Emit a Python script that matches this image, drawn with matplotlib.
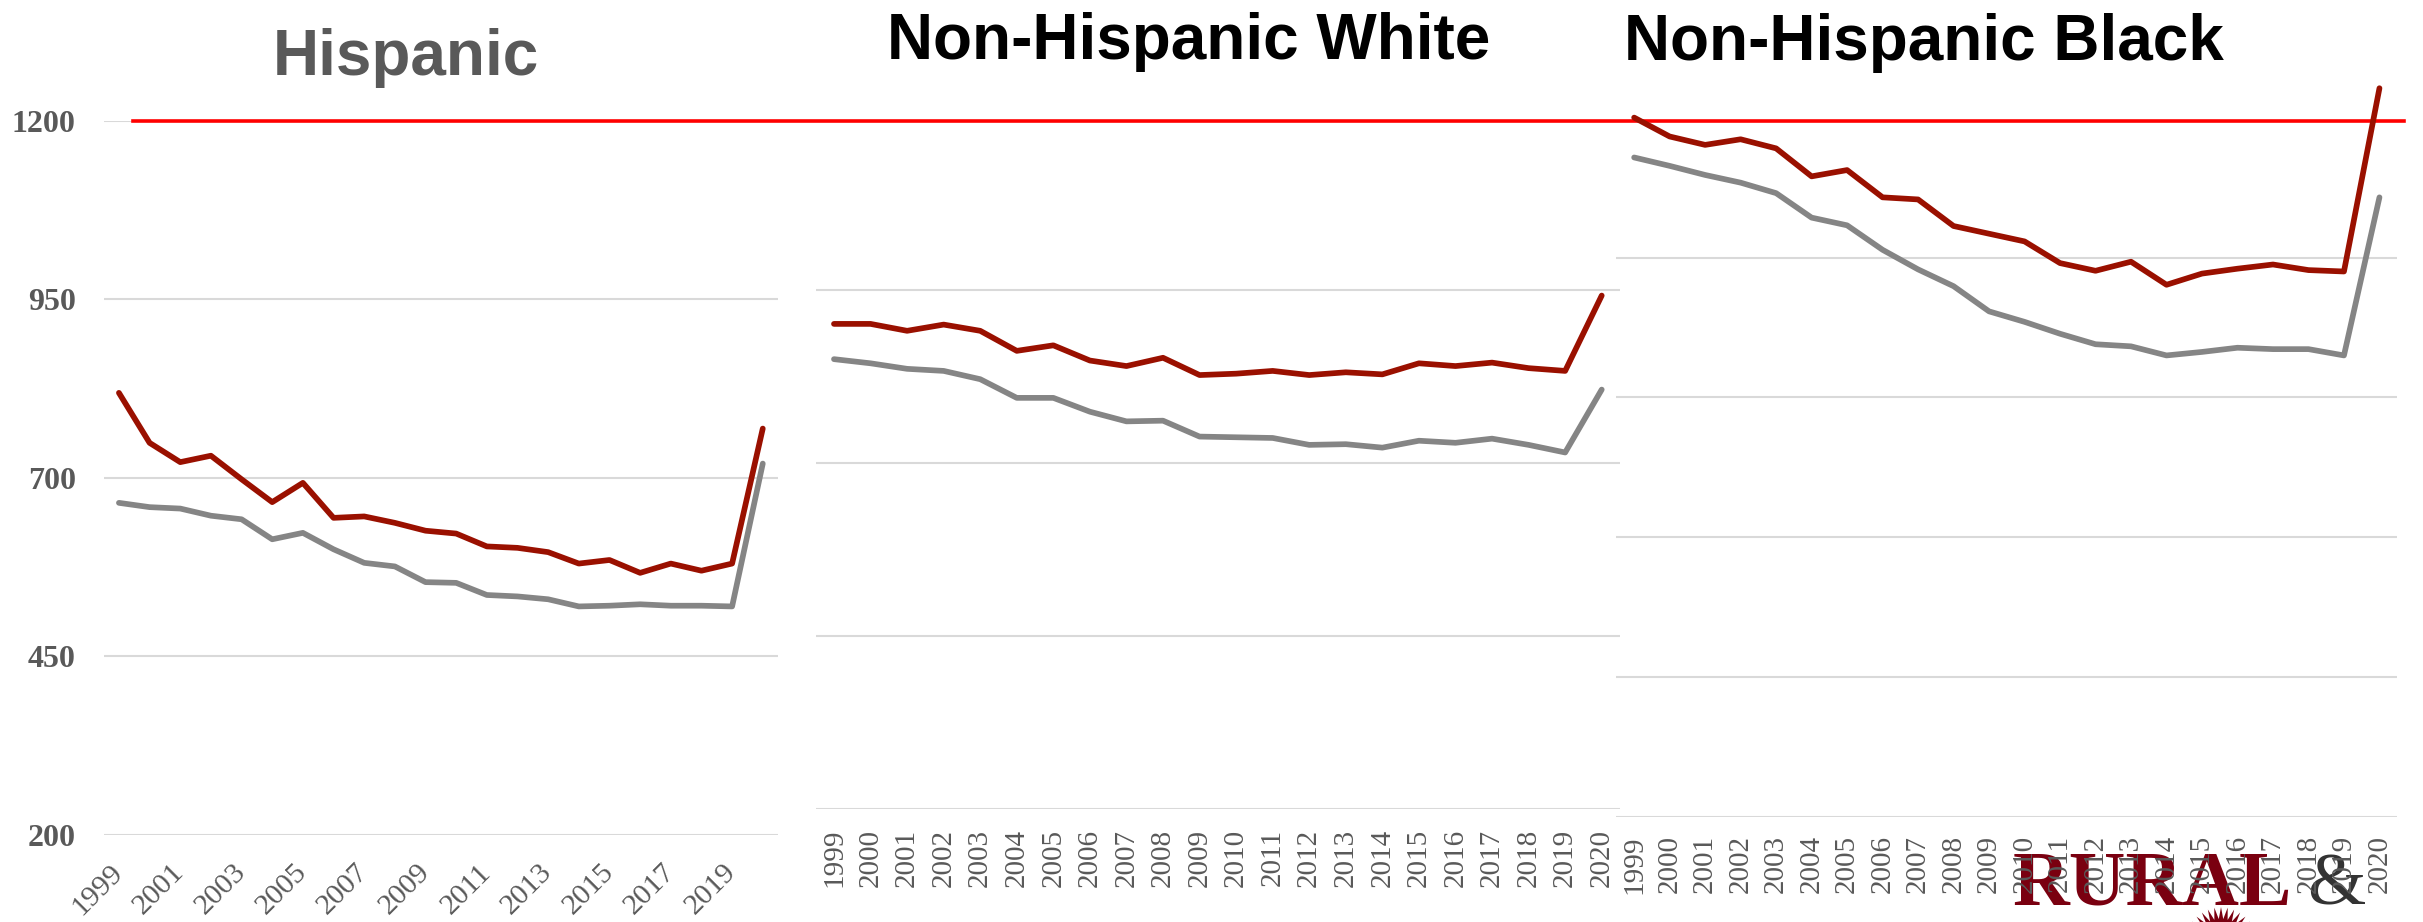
import numpy as np
import matplotlib
matplotlib.use("Agg")
import matplotlib.pyplot as plt
from matplotlib.lines import Line2D
from matplotlib.patches import Polygon
from matplotlib.transforms import blended_transform_factory

# Age-adjusted death rates per 100,000, rural vs urban
years = list(range(1999, 2021))

hispanic_rural = [819, 749, 722, 731, 698, 666, 693, 644, 646, 637, 626, 622,
                  604, 602, 596, 580, 585, 567, 580, 570, 580, 769]
hispanic_urban = [665, 659, 657, 647, 642, 614, 623, 600, 581, 576, 554, 553,
                  536, 534, 530, 520, 521, 523, 521, 521, 520, 720]

white_rural = [901, 901, 891, 900, 891, 862, 870, 848, 840, 852, 827, 829,
               833, 827, 831, 828, 844, 840, 845, 837, 833, 942]
white_urban = [850, 844, 836, 833, 821, 794, 794, 774, 760, 761, 738, 737,
               736, 726, 727, 722, 732, 729, 735, 726, 715, 806]

black_rural = [1200, 1173, 1161, 1169, 1156, 1116, 1125, 1086, 1083, 1045, 1034, 1023,
               992, 981, 994, 961, 977, 984, 990, 982, 980, 1242]
black_urban = [1143, 1131, 1118, 1107, 1092, 1057, 1046, 1011, 983, 959, 923, 908,
               891, 876, 873, 860, 865, 871, 869, 869, 860, 1086]

titles = ["Hispanic", "Non-Hispanic White", "Non-Hispanic Black"]
hispanic_ticks = [200, 450, 700, 950, 1200]
white_ticks = [200, 450, 700, 950]
black_ticks = [200, 400, 600, 800, 1000]
reference_level = 1200

RURAL_COLOR = "#9a1000"
URBAN_COLOR = "#858585"
GRID_COLOR = "#d9d9d9"
LABEL_COLOR = "#595959"
SERIF = ["Liberation Serif", "DejaVu Serif"]
SANS = ["Liberation Sans", "DejaVu Sans"]

W, H = 2423, 922
fig = plt.figure(figsize=(W / 100, H / 100), dpi=100)


def px_axes(left, top, right, bottom):
    ax = fig.add_axes([left / W, 1 - bottom / H, (right - left) / W, (bottom - top) / H])
    ax.set_facecolor("none")
    for s in ax.spines.values():
        s.set_visible(False)
    ax.tick_params(length=0)
    ax.set_axisbelow(True)
    ax.grid(axis="y", color=GRID_COLOR, linewidth=1.5)
    ax.set_xlim(1998.5, 2020.5)
    return ax


def draw_series(ax, rural, urban):
    ax.plot(years, urban, color=URBAN_COLOR, lw=4.1, solid_capstyle="round",
            solid_joinstyle="round", zorder=2, clip_on=False)
    ax.plot(years, rural, color=RURAL_COLOR, lw=4.1, solid_capstyle="round",
            solid_joinstyle="round", zorder=3, clip_on=False)


# Hispanic panel
ax1 = px_axes(103.6, 120.7, 778.1, 835.0)
ax1.set_ylim(200, 1200)
ax1.set_yticks(hispanic_ticks)
ax1.set_yticklabels([str(t) for t in hispanic_ticks], fontfamily=SERIF,
                    fontweight="bold", fontsize=23, color=LABEL_COLOR)
ax1.tick_params(axis="y", pad=20)
ax1.set_xticks(years[::2])
ax1.set_xticklabels([str(y) for y in years[::2]], fontfamily=SERIF,
                    fontsize=21.5, color=LABEL_COLOR)
ax1.tick_params(axis="x", pad=24)
for lab in ax1.get_xticklabels():
    lab.set_rotation(45)
    lab.set_ha("right")
    lab.set_va("center")
    lab.set_rotation_mode("anchor")
draw_series(ax1, hispanic_rural, hispanic_urban)

# Non-Hispanic White panel
ax2 = px_axes(815.7, 117.2, 1620.0, 808.5)
ax2.set_ylim(200, 1200)
ax2.set_yticks(white_ticks)
ax2.set_yticklabels([])
ax2.set_xticks(years)
ax2.set_xticklabels([str(y) for y in years], fontfamily=SERIF, fontsize=21,
                    color=LABEL_COLOR, rotation=90, ha="center", va="top")
ax2.tick_params(axis="x", pad=14.5)
draw_series(ax2, white_rural, white_urban)

# Non-Hispanic Black panel
ax3 = px_axes(1616.4, 47.65, 2397.2, 817.1)
ax3.set_ylim(200, 1300)
ax3.set_yticks(black_ticks)
ax3.set_yticklabels([])
ax3.set_xticks(years)
ax3.set_xticklabels([str(y) for y in years], fontfamily=SERIF, fontsize=21,
                    color=LABEL_COLOR, rotation=90, ha="center", va="top")
ax3.tick_params(axis="x", pad=13)
draw_series(ax3, black_rural, black_urban)

# Reference level running across all three panels
ref_tr = blended_transform_factory(fig.transFigure, ax1.transData)
ax3.add_line(Line2D([132.7 / W, 2404 / W], [reference_level, reference_level],
                    transform=ref_tr, color="#ff0000", lw=2.6, zorder=1.5,
                    clip_on=False))

# Panel titles
title_pos = [(406, 75.3, LABEL_COLOR), (1189, 58.8, "black"), (1924, 60.0, "black")]
for t, (cx, by, col) in zip(titles, title_pos):
    fig.text(cx / W, 1 - by / H, t, ha="center", va="baseline", fontfamily=SANS,
             fontweight="bold", fontsize=46, color=col)

# Logo mark in the lower right, behind the axis labels
fig.text(2013 / W, 1 - 904 / H, "RURAL", ha="left", va="baseline", fontfamily=SERIF,
         fontweight="bold", fontsize=56.5, color="#7a0010", zorder=-1)
fig.text(2307 / W, 1 - 904 / H, "&", ha="left", va="baseline", fontfamily=SERIF,
         fontsize=54, color="#333333", zorder=-1)
ang = np.linspace(np.radians(15), np.radians(165), 29)
rad = np.where(np.arange(ang.size) % 2 == 0, 36, 24)
cx, cy = 2221, 943
pts = np.column_stack([(cx + rad * np.cos(ang)) / W, 1 - (cy - rad * np.sin(ang)) / H])
pts = np.vstack([pts, [[cx / W, 1 - cy / H]]])
fig.add_artist(Polygon(pts, closed=True, transform=fig.transFigure,
                       facecolor="#7a0010", edgecolor="none", zorder=-1))

fig.savefig("out.png", dpi=100, facecolor="white")
